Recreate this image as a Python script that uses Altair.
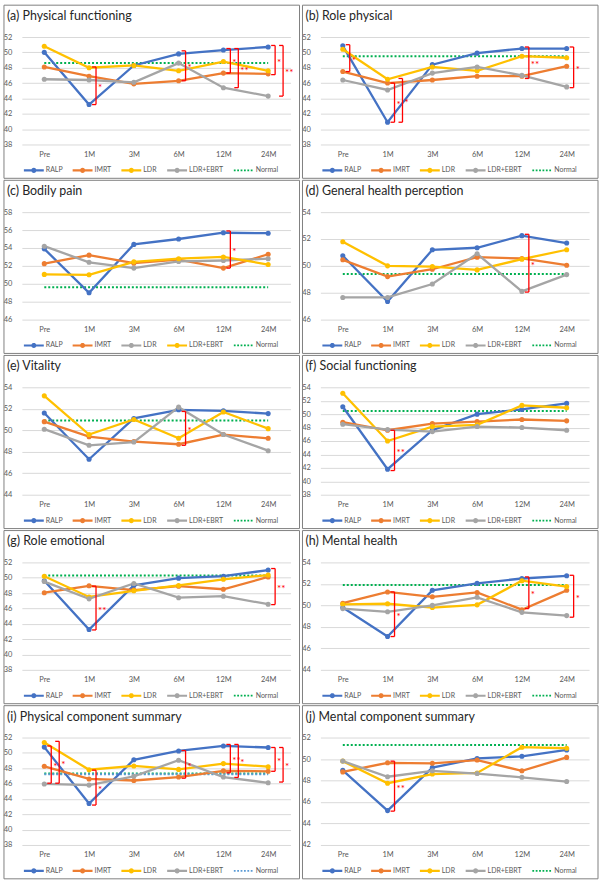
import math
import altair as alt
import pandas as pd

# ---------------------------------------------------------------------------
# Data: mean scores per treatment group at each follow-up point
# ---------------------------------------------------------------------------
TIMEPOINTS = ["Pre", "1M", "3M", "6M", "12M", "24M"]
GROUPS = ["RALP", "IMRT", "LDR", "LDR+EBRT"]
LEGEND_DOMAIN = GROUPS + ["Normal"]

# (a) Physical functioning
A_RALP = [50.0, 43.2, 48.3, 49.8, 50.3, 50.7]
A_IMRT = [48.1, 46.9, 45.9, 46.3, 47.3, 47.2]
A_LDR = [50.8, 48.0, 48.3, 47.6, 48.8, 47.6]
A_EBRT = [46.5, 46.4, 46.1, 48.6, 45.4, 44.3]
A_NORMAL = 48.6
A_SIG = [("1M", 43.2, 48.1, 0, "*"), ("6M", 46.3, 50.2, 0, "*"),
         ("12M", 47.3, 50.5, 0, "*"), ("12M", 45.4, 50.5, 1, "**"),
         ("24M", 47.1, 50.9, 0, "*"), ("24M", 44.3, 50.9, 1, "**")]

# (b) Role physical
B_RALP = [50.85, 40.9, 48.4, 49.9, 50.5, 50.5]
B_IMRT = [47.5, 46.0, 46.4, 46.9, 46.9, 48.2]
B_LDR = [50.4, 46.5, 48.1, 47.6, 49.5, 49.3]
B_EBRT = [46.4, 45.1, 47.3, 48.1, 47.0, 45.5]
B_NORMAL = 49.5
B_SIG = [("Pre", 47.5, 51.0, 0, "*"), ("1M", 40.9, 46.0, 0, "*"),
         ("1M", 40.9, 46.6, 1, "*"), ("12M", 46.6, 50.7, 0, "**"),
         ("24M", 45.4, 50.7, 0, "*")]

# (c) Bodily pain (LDR drawn grey, LDR+EBRT yellow in this panel)
C_RALP = [53.9, 49.0, 54.4, 55.0, 55.7, 55.65]
C_IMRT = [52.25, 53.2, 52.3, 52.7, 51.75, 53.3]
C_LDR = [54.2, 52.4, 51.75, 52.5, 52.6, 52.8]
C_EBRT = [51.05, 51.0, 52.45, 52.8, 53.0, 52.15]
C_NORMAL = 49.6
C_SIG = [("12M", 51.75, 55.9, 0, "*")]

# (d) General health perception
D_RALP = [50.75, 47.35, 51.2, 51.35, 52.25, 51.7]
D_IMRT = [50.45, 49.2, 49.75, 50.65, 50.55, 50.05]
D_LDR = [51.8, 50.0, 49.95, 49.7, 50.5, 51.2]
D_EBRT = [47.65, 47.65, 48.65, 50.9, 48.1, 49.35]
D_NORMAL = 49.4
D_SIG = [("12M", 48.05, 52.35, 0, "*")]

# (e) Vitality
E_RALP = [51.6, 47.3, 51.1, 51.9, 51.8, 51.55]
E_IMRT = [50.8, 49.4, 48.95, 48.7, 49.6, 49.25]
E_LDR = [53.2, 49.6, 51.0, 49.25, 51.7, 50.15]
E_EBRT = [50.1, 48.6, 48.9, 52.15, 49.6, 48.1]
E_NORMAL = 50.9
E_SIG = [("6M", 48.6, 51.75, 0, "*")]

# (f) Social functioning
F_RALP = [51.1, 41.8, 47.6, 50.0, 50.7, 51.6]
F_IMRT = [48.8, 47.6, 48.6, 48.9, 49.2, 49.0]
F_LDR = [53.1, 46.0, 48.15, 48.4, 51.3, 50.95]
F_EBRT = [48.5, 47.7, 47.4, 48.15, 48.0, 47.6]
F_NORMAL = 50.45
F_SIG = [("1M", 41.6, 47.6, 0, "**")]

# (g) Role emotional
G_RALP = [49.6, 43.25, 49.0, 49.95, 50.2, 51.0]
G_IMRT = [48.05, 48.95, 48.4, 48.9, 48.5, 50.1]
G_LDR = [50.2, 47.5, 48.3, 49.0, 49.8, 50.35]
G_EBRT = [49.5, 47.25, 49.25, 47.4, 47.6, 46.55]
G_NORMAL = 50.3
G_SIG = [("1M", 43.2, 48.9, 0, "**"), ("24M", 46.5, 51.2, 0, "**")]

# (h) Mental health
H_RALP = [49.8, 47.1, 51.4, 52.05, 52.5, 52.75]
H_IMRT = [50.2, 51.25, 50.8, 51.2, 49.6, 51.4]
H_LDR = [50.1, 50.15, 49.8, 50.05, 52.3, 51.75]
H_EBRT = [49.7, 49.4, 50.0, 50.75, 49.35, 49.05]
H_NORMAL = 51.9
H_SIG = [("1M", 47.1, 51.25, 0, "*"), ("12M", 49.7, 52.65, 0, "*"),
         ("24M", 48.9, 52.8, 0, "*")]

# (i) Physical component summary
I_RALP = [50.75, 43.4, 49.1, 50.25, 50.9, 50.7]
I_IMRT = [48.25, 46.6, 46.4, 46.85, 47.65, 47.6]
I_LDR = [51.35, 47.8, 48.3, 47.85, 48.6, 48.2]
I_EBRT = [45.95, 45.8, 46.95, 49.05, 46.85, 46.1]
I_NORMAL = 47.2
I_NORMAL_GREEN = 47.3
I_SIG = [("Pre", 46.05, 50.9, 0, "*"), ("Pre", 46.05, 51.5, 1, "*"),
         ("1M", 43.2, 47.75, 0, "*"), ("6M", 46.7, 50.3, 0, "*"),
         ("12M", 47.4, 51.1, 0, "**"), ("12M", 46.8, 51.1, 1, "*"),
         ("24M", 47.6, 50.7, 0, "*"), ("24M", 46.2, 50.7, 1, "*")]

# (j) Mental component summary
J_RALP = [48.95, 45.2, 49.2, 50.05, 50.25, 50.85]
J_IMRT = [48.8, 49.65, 49.6, 49.9, 48.9, 50.15]
J_LDR = [49.8, 47.75, 48.6, 48.7, 51.1, 51.0]
J_EBRT = [49.8, 48.35, 48.9, 48.65, 48.3, 47.9]
J_NORMAL = 51.3
J_SIG = [("1M", 45.15, 49.8, 0, "**")]

# ---------------------------------------------------------------------------
# Styling
# ---------------------------------------------------------------------------
BLUE, ORANGE, GOLD, GREY = "#4472C4", "#ED7D31", "#FFC000", "#A5A5A5"
GREEN, SKY, RED = "#00B050", "#5B9BD5", "#FF0000"
FONT = "Lato"
TEXT = "#595959"
W, H = 270, 108             # plot area of one panel
BOX = (-18, 279, -32, 142)  # panel frame around plot, labels, title, legend


def _series_symbol():
    """Legend glyph (unit = half slot): a long thick line with a dot in the middle."""
    path = "M-2,-0.22H2V0.22H-2Z"
    pts = []
    for k in range(16):
        a = 2 * math.pi * k / 16
        pts.append(f"{0.52 * math.cos(a):.3f},{0.52 * math.sin(a):.3f}")
    return path + "M" + "L".join(pts) + "Z"


def _dotted_symbol():
    """Legend glyph: a dotted line of the same length."""
    parts = []
    x = -2.0
    while x < 1.9:
        parts.append(f"M{x:.2f},-0.18h0.36v0.36h-0.36Z")
        x += 0.68
    return "".join(parts)


SERIES_GLYPH = _series_symbol()
DOTTED_GLYPH = _dotted_symbol()


def x_enc(field="t"):
    return alt.X(
        f"{field}:N",
        scale=alt.Scale(type="point", domain=TIMEPOINTS, padding=0.5),
        axis=alt.Axis(title=None, labelAngle=0, domain=False, ticks=False,
                      grid=False, labelFontSize=7.5, labelColor=TEXT,
                      labelFont=FONT, labelPadding=6),
    )


def y_enc(field, domain):
    return alt.Y(
        f"{field}:Q",
        scale=alt.Scale(domain=list(domain), nice=False, zero=False),
        axis=alt.Axis(title=None, values=list(range(domain[0], domain[1] + 1, 2)),
                      grid=True, gridColor="#D9D9D9", gridWidth=1, domain=False,
                      ticks=False, labelFontSize=7.5, labelColor=TEXT,
                      labelFont=FONT, labelPadding=10),
    )


def panel(title, series, normal, sig, domain, colors, normal_color=GREEN,
          extra_normal=None):
    rows = []
    for g, vals in zip(GROUPS, series):
        for t, v in zip(TIMEPOINTS, vals):
            rows.append({"group": g, "t": t, "value": v})
    df = pd.DataFrame(rows)

    color_scale = alt.Scale(domain=LEGEND_DOMAIN, range=list(colors) + [normal_color])
    legend = alt.Legend(
        title=None, orient="none", legendX=7, legendY=129, direction="horizontal",
        columns=5, symbolSize=100, symbolStrokeWidth=0, symbolOpacity=1,
        labelFontSize=7, labelColor=TEXT, labelFont=FONT, labelOffset=7,
        columnPadding=10, padding=0,
    )

    frame = alt.Chart(alt.Data(values=[{"k": 0}])).mark_rect(
        fill="transparent", stroke="#808080", strokeWidth=1
    ).encode(x=alt.value(BOX[0]), x2=alt.value(BOX[1]),
             y=alt.value(BOX[2]), y2=alt.value(BOX[3]))

    heading = alt.Chart(alt.Data(values=[{"label": title}])).mark_text(
        align="left", baseline="middle", fontSize=12.5, font=FONT, color="#262626"
    ).encode(x=alt.value(-15), y=alt.value(-21), text="label:N")

    base = alt.Chart(df)

    # legend carrier: zero-size points, only the legend shows
    carrier = base.mark_point(filled=True, size=0).encode(
        x=x_enc(), y=y_enc("value", domain),
        color=alt.Color("group:N", scale=color_scale, legend=legend),
        shape=alt.Shape("group:N", scale=alt.Scale(
            domain=LEGEND_DOMAIN, range=[SERIES_GLYPH] * 4 + [DOTTED_GLYPH]),
            legend=legend),
    )

    layers = [frame, heading, carrier]

    norms = []
    if extra_normal is not None:
        norms.append((extra_normal, GREEN))
    norms.append((normal, normal_color))
    for level, col in norms:
        ndf = pd.DataFrame({"t0": [TIMEPOINTS[0]], "t1": [TIMEPOINTS[-1]], "value": [level]})
        layers.append(
            alt.Chart(ndf).mark_rule(color=col, strokeWidth=2, strokeDash=[2, 2])
            .encode(x=x_enc("t0"), x2=alt.X2("t1"), y=y_enc("value", domain))
        )

    layers.append(
        base.mark_line(strokeWidth=2.3).encode(
            x=x_enc(), y=y_enc("value", domain),
            color=alt.Color("group:N", scale=color_scale, legend=None),
        )
    )
    layers.append(
        base.mark_circle(size=26, opacity=1).encode(
            x=x_enc(), y=y_enc("value", domain),
            color=alt.Color("group:N", scale=color_scale, legend=None),
        )
    )

    # significance brackets with asterisks
    sdf = pd.DataFrame(sig, columns=["t", "lo", "hi", "level", "mark"])
    sdf["mid"] = (sdf["lo"] + sdf["hi"]) / 2
    for level in (0, 1):
        sub = sdf[sdf["level"] == level]
        if sub.empty:
            continue
        off = 7 + 8 * level
        b = alt.Chart(sub)
        layers.append(b.mark_rule(color=RED, strokeWidth=1.3, xOffset=off)
                      .encode(x=x_enc(), y=y_enc("lo", domain), y2=alt.Y2("hi")))
        for end in ("lo", "hi"):
            layers.append(b.mark_rule(color=RED, strokeWidth=1.3, xOffset=off - 4,
                                      x2Offset=off)
                          .encode(x=x_enc(), x2=alt.X2("t"), y=y_enc(end, domain)))
        layers.append(b.mark_text(color=RED, align="left", baseline="middle",
                                  dx=off + 2, dy=2.5, fontSize=10, font=FONT)
                      .encode(x=x_enc(), y=y_enc("mid", domain), text="mark:N"))

    return alt.layer(*layers).properties(width=W, height=H)


STD = [BLUE, ORANGE, GOLD, GREY]
SWAP = [BLUE, ORANGE, GREY, GOLD]

pa = panel("(a) Physical functioning", [A_RALP, A_IMRT, A_LDR, A_EBRT], A_NORMAL, A_SIG, (38, 52), STD)
pb = panel("(b) Role physical", [B_RALP, B_IMRT, B_LDR, B_EBRT], B_NORMAL, B_SIG, (38, 52), STD)
pc = panel("(c) Bodily pain", [C_RALP, C_IMRT, C_LDR, C_EBRT], C_NORMAL, C_SIG, (46, 58), SWAP)
pd_ = panel("(d) General health perception", [D_RALP, D_IMRT, D_LDR, D_EBRT], D_NORMAL, D_SIG, (46, 54), STD)
pe = panel("(e) Vitality", [E_RALP, E_IMRT, E_LDR, E_EBRT], E_NORMAL, E_SIG, (44, 54), STD)
pf = panel("(f) Social functioning", [F_RALP, F_IMRT, F_LDR, F_EBRT], F_NORMAL, F_SIG, (38, 54), STD)
pg = panel("(g) Role emotional", [G_RALP, G_IMRT, G_LDR, G_EBRT], G_NORMAL, G_SIG, (38, 52), STD)
ph = panel("(h) Mental health", [H_RALP, H_IMRT, H_LDR, H_EBRT], H_NORMAL, H_SIG, (44, 54), STD)
pi = panel("(i) Physical component summary", [I_RALP, I_IMRT, I_LDR, I_EBRT], I_NORMAL, I_SIG, (38, 52), STD,
           normal_color=SKY, extra_normal=I_NORMAL_GREEN)
pj = panel("(j) Mental component summary", [J_RALP, J_IMRT, J_LDR, J_EBRT], J_NORMAL, J_SIG, (42, 52), STD)


def indep(c):
    return c.resolve_scale(x="independent", y="independent", color="independent",
                           shape="independent").resolve_legend(
        color="independent", shape="independent")


rows = [indep(alt.hconcat(l, r, spacing=0))
        for l, r in [(pa, pb), (pc, pd_), (pe, pf), (pg, ph), (pi, pj)]]
chart = indep(alt.vconcat(*rows, spacing=0)).properties(
    padding={"left": 2, "top": 2, "right": 2, "bottom": 0}
).configure(font=FONT).configure_view(stroke="transparent")

chart.save("out.html", embed_options={"renderer": "svg", "actions": False})
